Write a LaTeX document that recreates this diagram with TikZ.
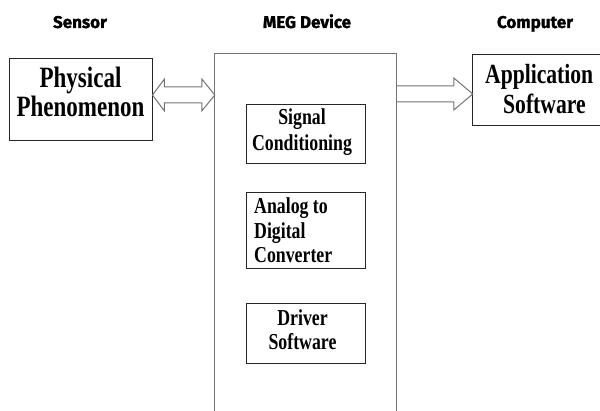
\documentclass[tikz,border=0pt]{standalone}
\usepackage{fontspec}
\usetikzlibrary{calc}
\setmainfont{Liberation Serif}
\newfontfamily\bodyf[FakeStretch=0.78]{Liberation Serif}
\newfontfamily\headf[FakeBold=1.3]{Fira Sans}
\tikzset{
  boxn/.style={draw=black!85, line width=0.9pt, inner sep=0pt},
  frame/.style={draw=none, inner sep=0pt},
  megline/.style={draw=black!55, line width=1pt},
  arrowshape/.style={draw=black!55, line width=1pt, line join=miter},
  bodytext/.style={inner sep=0pt, text=black},
  headtext/.style={inner sep=0pt, anchor=base, font=\headf\bfseries\fontsize{17}{20}\selectfont}
}
\begin{document}
\begin{tikzpicture}[x=1pt,y=-1pt]
\useasboundingbox (0,0) rectangle (600,411);
% headers
\node[headtext] (hsensor) at (80,28) {Sensor};
\node[headtext] (hmeg) at (307,28) {MEG Device};
\node[headtext] (hcomp) at (535,28) {Computer};
% sensor box
\node[boxn, minimum width=143pt, minimum height=82pt] (phys) at (80.5,99) {};
\node[bodytext, anchor=north, align=center, font=\bodyf\bfseries\fontsize{29.5}{29}\selectfont] (physt) at (80.5,66.5) {Physical\\Phenomenon};
% MEG device frame (open at bottom)
\node[frame, minimum width=181pt, minimum height=357pt] (meg) at (305.5,232.5) {};
\draw[megline] (meg.south west) -- (meg.north west) -- (meg.north east) -- (meg.south east);
% inner boxes
\node[boxn, minimum width=119pt, minimum height=59pt] (sig) at (305.5,133.5) {};
\node[bodytext, anchor=north, align=center, font=\bodyf\bfseries\fontsize{22.8}{26}\selectfont] (sigt) at (302,108.7) {Signal\\Conditioning};
\node[boxn, minimum width=119pt, minimum height=76pt] (adc) at (305.5,230) {};
\node[bodytext, anchor=north west, align=left, font=\bodyf\bfseries\fontsize{22.8}{24.5}\selectfont] (adct) at (254,197.7) {Analog to\\Digital\\Converter};
\node[boxn, minimum width=119pt, minimum height=60pt] (drv) at (305.5,333) {};
\node[bodytext, anchor=north, align=center, font=\bodyf\bfseries\fontsize{22.8}{24}\selectfont] (drvt) at (302.5,309.7) {Driver\\Software};
% computer box (right side runs off the page)
\node[frame, minimum width=135pt, minimum height=70pt] (app) at (540.5,90) {};
\draw[draw=black!85, line width=0.9pt] (app.north east) -- (app.north west) -- (app.south west) -- (app.south east);
\node[bodytext, anchor=north west, align=left, font=\bodyf\bfseries\fontsize{27.7}{30}\selectfont] (appt) at (485,64.3) {Application\\\hspace*{18pt}Software};
% double block arrow between sensor and MEG device
\coordinate (dl) at (phys.east |- 0,95);
\coordinate (dr) at (meg.west |- 0,95);
\draw[arrowshape] (dl) -- ++(12,-16) -- ++(0,8) -- ($(dr)+(-13,-8)$) -- ++(0,-8) -- (dr)
  -- ++(-13,16) -- ++(0,-8) -- ($(dl)+(12,8)$) -- ++(0,8) -- cycle;
% single block arrow from MEG device to computer
\coordinate (sl) at (meg.east |- 0,94);
\coordinate (sr) at (app.west |- 0,94);
\draw[arrowshape] ($(sl)+(0,-8)$) -- ($(sr)+(-19,-8)$) -- ++(0,-8) -- (sr) -- ++(-19,16) -- ++(0,-8) -- ($(sl)+(0,8)$);
\end{tikzpicture}
\end{document}
